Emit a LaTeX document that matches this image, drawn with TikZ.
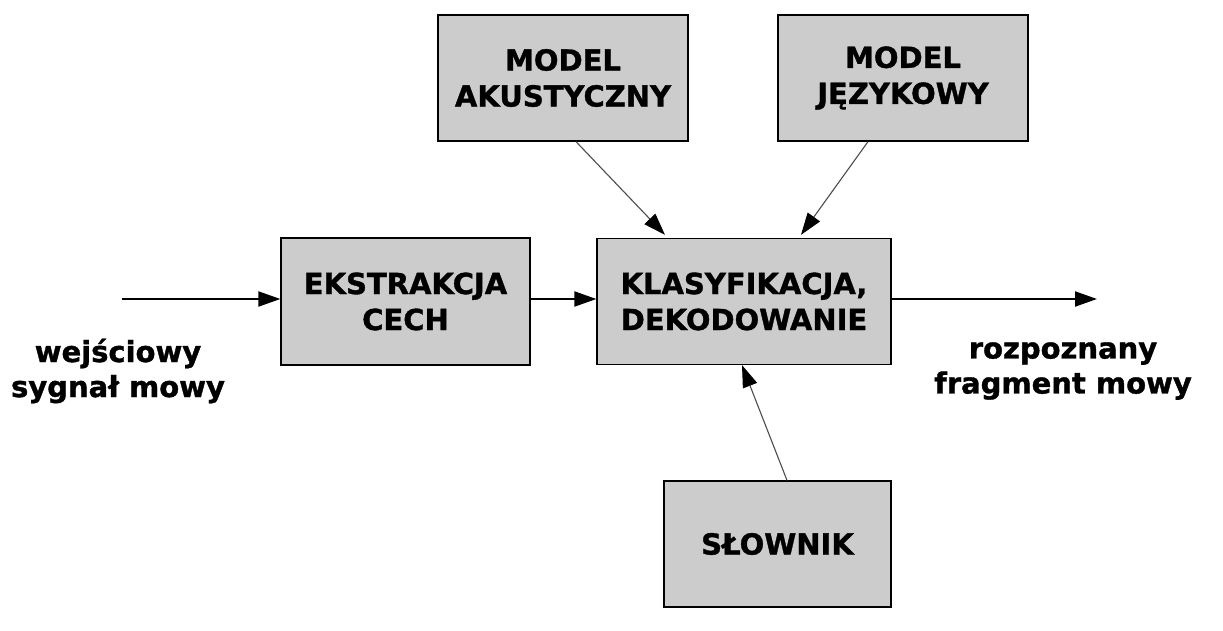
\documentclass[tikz,border=0pt]{standalone}
\usepackage{fontspec}
\setmainfont{DejaVu Sans}[BoldFeatures={FakeBold=1.2}]
\usepackage{tikz}
\usetikzlibrary{arrows.meta}

\begin{document}
\begin{tikzpicture}[x=1pt, y=-1pt, >={Triangle[length=22pt,width=15pt,color=black]},
    blok/.style={draw, line width=1.3pt, fill=black!20, inner sep=0pt, align=center,
        font=\fontsize{29}{36}\selectfont\bfseries},
    opis/.style={align=center, font=\fontsize{29}{35}\selectfont\bfseries},
    gruba/.style={->, line width=2pt},
    cienka/.style={->, line width=1.1pt, draw=black!70}]
        \useasboundingbox (0,0) rectangle (1223,631);
        % bloki
        \node[blok, minimum width=249pt, minimum height=127pt] (ekstrakcja) at (405.5,301.5) {EKSTRAKCJA\\CECH};
        \node[blok, minimum width=294pt, minimum height=126pt] (klasyfikacja) at (744,301.5) {KLASYFIKACJA,\\DEKODOWANIE};
        \node[blok, minimum width=250pt, minimum height=126pt] (akustyczny) at (563,78) {MODEL\\AKUSTYCZNY};
        \node[blok, minimum width=250pt, minimum height=126pt] (jezykowy) at (903,78) {MODEL\\JĘZYKOWY};
        \node[blok, minimum width=227pt, minimum height=126pt] (slownik) at (777.5,544) {SŁOWNIK};
        % wejscie i wyjscie
        \coordinate (wejscie) at (122,299);
        \coordinate (wyjscie) at (1097,299);
        \node[opis] (wejscieopis) at (118,371) {wejściowy\\sygnał mowy};
        \node[opis] (wyjscieopis) at (1063,371) {rozpoznany\\fragment mowy};
        % polaczenia
        \draw[gruba] (wejscie) -- (wejscie -| ekstrakcja.west);
        \draw[gruba] ([yshift=2.5pt]ekstrakcja.east) -- ([yshift=2.5pt]klasyfikacja.west);
        \draw[gruba] (klasyfikacja.east |- wyjscie) -- (wyjscie);
        \draw[cienka] ([xshift=13pt]akustyczny.south) -- ([xshift=-79pt,yshift=3pt]klasyfikacja.north);
        \draw[cienka] ([xshift=-35pt]jezykowy.south) -- ([xshift=57pt,yshift=3pt]klasyfikacja.north);
        \draw[cienka] ([xshift=9.5pt]slownik.north) -- ([xshift=-2pt]klasyfikacja.south);
\end{tikzpicture}
\end{document}
